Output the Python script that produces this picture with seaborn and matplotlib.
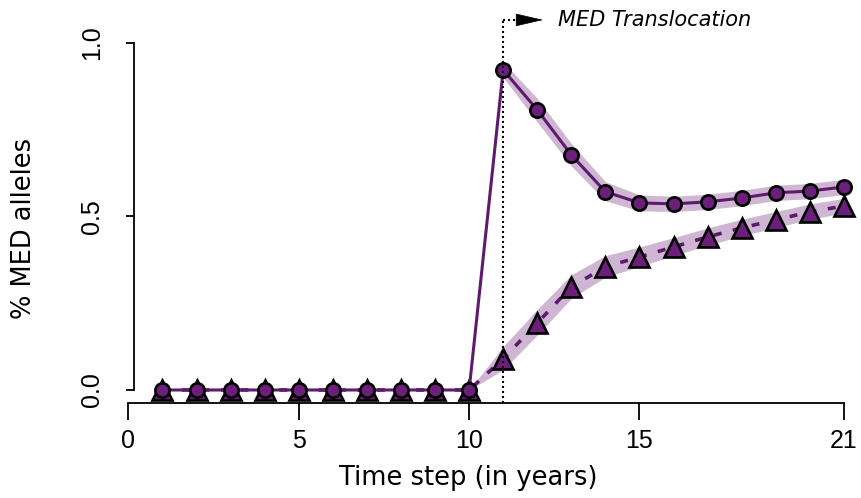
import matplotlib
matplotlib.use("Agg")
import matplotlib.pyplot as plt
import seaborn as sns
import numpy as np
import pandas as pd

# ---- data ----
years = list(range(1, 22))
med_circle = [0, 0, 0, 0, 0, 0, 0, 0, 0, 0,
              0.922, 0.807, 0.677, 0.571, 0.539, 0.536, 0.542, 0.553, 0.568, 0.573, 0.585]
med_triangle = [0, 0, 0, 0, 0, 0, 0, 0, 0, 0,
                0.090, 0.193, 0.297, 0.355, 0.383, 0.412, 0.441, 0.467, 0.490, 0.513, 0.530]

circ_band_x = list(range(11, 22))
circ_upper = [0.945, 0.840, 0.710, 0.600, 0.562, 0.558, 0.564, 0.575, 0.590, 0.595, 0.607]
circ_lower = [0.900, 0.772, 0.645, 0.545, 0.516, 0.514, 0.520, 0.531, 0.546, 0.551, 0.563]

tri_band_x = list(range(10, 22))
tri_upper = [0.0, 0.125, 0.232, 0.332, 0.387, 0.412, 0.439, 0.467, 0.492, 0.514, 0.536, 0.552]
tri_lower = [0.0, 0.058, 0.158, 0.264, 0.325, 0.356, 0.387, 0.417, 0.444, 0.468, 0.492, 0.510]

x_ticks = [0, 5, 10, 15, 21]
y_ticks = [0.0, 0.5, 1.0]
y_ticklabels = ["0.0", "0.5", "1.0"]
translocation_year = 11

df = pd.DataFrame({"year": years, "circle": med_circle, "triangle": med_triangle})

# ---- style ----
sns.set_style("white")
plt.rcParams["font.family"] = ["DejaVu Sans"]
plt.rcParams["text.color"] = "black"
plt.rcParams["axes.labelcolor"] = "black"

purple = "#6b1f7b"
line_purple = "#5e1a6e"

fig = plt.figure(figsize=(8.61, 4.98), dpi=100)
W, H = 861, 498
ax_left_px, ax_right_px = 116.76, 861
ax_bottom_px, ax_top_px = 403, 5
ax = fig.add_axes([ax_left_px / W, 1 - ax_bottom_px / H,
                   (ax_right_px - ax_left_px) / W, (ax_bottom_px - ax_top_px) / H])

# ribbons
ax.fill_between(tri_band_x, tri_lower, tri_upper, color=purple, alpha=0.32, linewidth=0, zorder=1)
ax.fill_between(circ_band_x, circ_lower, circ_upper, color=purple, alpha=0.32, linewidth=0, zorder=1)

# triangle series (dashed)
sns.lineplot(data=df, x="year", y="triangle", ax=ax, color=line_purple,
             linewidth=2.6, linestyle=(0, (2.2, 3.2)), marker="^", markersize=14,
             markerfacecolor=purple, markeredgecolor="black", markeredgewidth=1.9,
             zorder=3, clip_on=False)
# circle series (solid)
sns.lineplot(data=df, x="year", y="circle", ax=ax, color=line_purple,
             linewidth=2.2, marker="o", markersize=10.3,
             markerfacecolor=purple, markeredgecolor="black", markeredgewidth=1.9,
             zorder=4, clip_on=False)

# translocation marker
top_y = 1.066
ax.plot([translocation_year, translocation_year], [-0.0375, top_y], color="black",
        linestyle=(0, (1, 1.4)), linewidth=1.5, zorder=6, clip_on=False)
ax.plot([translocation_year, 11.55], [top_y, top_y], color="black",
        linestyle=(0, (1, 1.4)), linewidth=1.5, zorder=6)
ax.annotate("", xy=(12.17, top_y), xytext=(11.5, top_y),
            arrowprops=dict(arrowstyle="-|>,head_length=1.3,head_width=0.3",
                            color="black", lw=0.5, mutation_scale=14,
                            shrinkA=0, shrinkB=0), zorder=6)
ax.text(12.6, top_y, "MED Translocation", style="italic", fontsize=15,
        ha="left", va="center", family="DejaVu Sans", color="black")

# axes
ax.set_xlim(-0.34, 21.5)
ax.set_ylim(-0.0375, 1.109)
for s in ["top", "right"]:
    ax.spines[s].set_visible(False)
ax.spines["left"].set_position(("data", 0.18))
ax.spines["left"].set_bounds(0, 1)
ax.spines["bottom"].set_bounds(0, 21)
for s in ["left", "bottom"]:
    ax.spines[s].set_linewidth(1.3)
    ax.spines[s].set_color("black")

ax.set_xticks(x_ticks)
ax.set_xticklabels([str(t) for t in x_ticks], family="Liberation Sans", fontsize=18)
ax.set_yticks(y_ticks)
ax.set_yticklabels(y_ticklabels, family="Liberation Sans", fontsize=18,
                   rotation=90, va="center")
ax.tick_params(axis="x", bottom=True, direction="out", length=12.5, width=1.3, pad=6,
               colors="black")
ax.tick_params(axis="y", left=True, direction="out", length=6, width=1.3, pad=16,
               colors="black")

ax.set_xlabel("Time step (in years)", fontsize=18.5, color="black")
ax.xaxis.label.set_va("center")
ax.xaxis.set_label_coords((468 - ax_left_px) / (ax_right_px - ax_left_px),
                          (ax_bottom_px - 478) / (ax_bottom_px - ax_top_px))
ax.set_ylabel("% MED alleles", fontsize=18.5, color="black")
ax.yaxis.label.set_va("center")
ax.yaxis.label.set_ha("center")
ax.yaxis.set_label_coords((24 - ax_left_px) / (ax_right_px - ax_left_px),
                          (ax_bottom_px - 228) / (ax_bottom_px - ax_top_px))

ax.grid(False)
fig.savefig("out.png", dpi=100)
